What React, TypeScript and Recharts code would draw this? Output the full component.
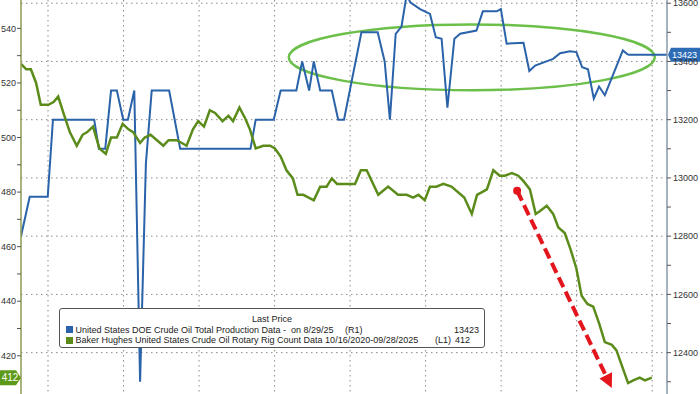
import React from "react";
import {
  LineChart,
  Line,
  XAxis,
  YAxis,
  CartesianGrid,
  ReferenceArea,
  ReferenceLine,
  ReferenceDot,
} from "recharts";

// weekly series, x = weeks since the first visible point
const prodWeeks = [
  0, 1.5, 4.6, 5.5, 12.6, 13.4, 14.5, 15.5, 16.5, 17.6, 18.4, 19.5, 20.5, 21.5, 22.5, 25.5, 27.4, 39.5, 40.4,
  43.5, 44.7, 47.4, 48.4, 49.6, 50.4, 51.5, 53.5, 54.6, 55.6, 56.6, 58.6, 61.4, 62.6, 63.5, 64.5, 65.5, 66.4,
  67.0, 68.7, 70.4, 71.4, 72.4, 73.4, 74.6, 75.6, 78.4, 79.5, 81.9, 82.6, 83.6, 86.5, 87.5, 88.5, 91.6, 92.8,
  94.5, 95.6, 96.6, 97.6, 98.6, 99.5, 100.5, 103.6, 104.5,
];
const prodValues = [
  12800, 12935, 12935, 13200, 13200, 13100, 13100, 13300, 13300, 13200, 13200, 13300, 12300, 13050, 13300, 13300,
  13100, 13100, 13200, 13200, 13300, 13300, 13400, 13300, 13400, 13300, 13300, 13200, 13200, 13300, 13500, 13500,
  13400, 13200, 13495, 13520, 13631, 13603, 13580, 13563, 13483, 13478, 13241, 13478, 13495, 13506, 13572, 13572,
  13580, 13461, 13464, 13367, 13386, 13409, 13428, 13435, 13432, 13380, 13373, 13272, 13314, 13284, 13438, 13423,
];

const rigWeeks = [
  0, 0.9, 1.7, 2.6, 3.4, 4.7, 5.6, 6.4, 7.3, 8.4, 9.6, 10.6, 11.4, 12.4, 13.5, 14.6, 15.5, 16.5, 17.5, 18.5,
  19.3, 20.5, 21.3, 22.3, 23.4, 24.5, 25.4, 26.8, 27.7, 28.5, 29.6, 30.5, 31.5, 32.5, 33.4, 34.7, 35.7, 36.5,
  37.6, 38.6, 39.4, 40.4, 41.7, 42.9, 43.7, 44.7, 45.7, 46.8, 47.6, 48.6, 50.4, 51.5, 52.6, 53.5, 54.4, 57.5,
  58.5, 59.5, 61.5, 63.2, 64.9, 66.4, 67.5, 68.4, 69.5, 70.4, 71.5, 72.7, 74.1, 76.3, 77.6, 78.5, 80.2, 81.3,
  82.4, 83.3, 84.5, 85.6, 86.5, 87.6, 88.6, 89.3, 90.5, 91.6, 92.5, 93.6, 94.6, 95.6, 96.5, 97.5, 98.5, 99.5,
  100.5, 101.7, 102.5, 104.5, 105.4, 106.5, 107.4, 108.6,
];
const rigValues = [
  527, 525, 525, 520, 512, 512, 513, 515, 509, 502, 497, 501, 502, 504, 496, 494, 500, 500, 505, 503,
  502, 498, 500, 501, 499, 497, 499, 499, 498, 497, 503, 506, 504, 510, 509, 506, 508, 506, 511, 507,
  503, 496, 497, 497, 496, 493, 488, 485, 479, 479, 477, 482, 482, 485, 483, 483, 488, 488, 479, 482,
  479, 479, 478, 479, 477, 482, 482, 483, 482, 478, 472, 479, 481, 488, 486, 486, 487, 486, 484, 481,
  472, 473, 475, 472, 467, 465, 459, 452, 442, 439, 438, 432, 425, 424, 422, 410, 411, 412, 411, 412,
];

const gridWeeks = [4.65, 17.65, 30.65, 43.65, 56.65, 69.65, 82.65, 95.65, 108.65];
const leftTicks = [420, 430, 440, 450, 460, 470, 480, 490, 500, 510, 520, 530, 540];
const rightTicks = [12300, 12400, 12500, 12600, 12700, 12800, 12900, 13000, 13100, 13200, 13300, 13400, 13500, 13600];
const gridValues = [12400, 12600, 12800, 13000, 13200, 13400, 13600];

const prodData = prodWeeks.map((week, i) => ({ week, production: prodValues[i] }));
const rigData = rigWeeks.map((week, i) => ({ week, rigs: rigValues[i] }));

const lastProd = prodValues[prodValues.length - 1];
const lastProdWeek = prodWeeks[prodWeeks.length - 1];
const lastRigs = rigValues[rigValues.length - 1];

const X_MAX = 111.2;
const BLUE = "#2a63a9";
const GREEN = "#5b8c1b";
const RED = "#e3161e";
const FONT = "'Liberation Sans', Arial, sans-serif";

const TrendArrow = (props: any) => {
  const { x1, y1, x2, y2 } = props;
  const dx = x2 - x1;
  const dy = y2 - y1;
  const len = Math.hypot(dx, dy);
  const ux = dx / len;
  const uy = dy / len;
  const head = 14;
  const half = 7;
  const bx = x2 - ux * head;
  const by = y2 - uy * head;
  return (
    <g>
      <line x1={x1} y1={y1} x2={bx} y2={by} stroke={RED} strokeWidth={4} strokeDasharray="11 5" />
      <circle cx={x1} cy={y1} r={4} fill={RED} />
      <polygon
        points={`${x2},${y2} ${bx - uy * half},${by + ux * half} ${bx + uy * half},${by - ux * half}`}
        fill={RED}
      />
    </g>
  );
};

const Oval = (props: any) => {
  const { x, y, width, height } = props;
  return (
    <ellipse
      cx={x + width / 2}
      cy={y + height / 2}
      rx={width / 2}
      ry={height / 2}
      fill="none"
      stroke="#6cc04a"
      strokeWidth={2.5}
    />
  );
};

const LeftBadge = (props: any) => {
  const { cx, cy } = props;
  return (
    <g>
      <path
        d={`M${cx - 21},${cy - 7.5} L${cx - 5},${cy - 7.5} L${cx},${cy} L${cx - 5},${cy + 7.5} L${cx - 21},${cy + 7.5} Z`}
        fill="#5e9a1a"
      />
      <text x={cx - 11} y={cy + 3.5} textAnchor="middle" fill="#fff" fontSize={10} fontFamily={FONT}>
        {lastRigs}
      </text>
    </g>
  );
};

const RightBadge = (props: any) => {
  const { cx, cy } = props;
  return (
    <g>
      <path
        d={`M${cx + 1},${cy} L${cx + 4},${cy - 7} L${cx + 40},${cy - 7} L${cx + 40},${cy + 7} L${cx + 4},${cy + 7} Z`}
        fill="#2d6cb4"
      />
      <text x={cx + 5} y={cy + 3.3} fill="#fff" fontSize={9} fontFamily={FONT}>
        {lastProd}
      </text>
    </g>
  );
};

const Swatch = ({ color }: { color: string }) => (
  <span
    style={{
      display: "inline-block",
      width: 7,
      height: 7,
      background: color,
      marginRight: 3,
      verticalAlign: "-0.5px",
    }}
  />
);

const LegendBox = () => (
  <div
    style={{
      position: "absolute",
      left: 59,
      top: 308,
      width: 426,
      height: 40,
      boxSizing: "border-box",
      border: "1px solid #555",
      borderRadius: 3,
      background: "#fff",
      fontFamily: FONT,
      fontSize: 9,
      lineHeight: "10.5px",
      color: "#222",
      paddingTop: 5,
    }}
  >
    <div style={{ textAlign: "center" }}>Last Price</div>
    <div style={{ position: "relative", height: 10.5, whiteSpace: "pre" }}>
      <span style={{ position: "absolute", left: 5.5 }}>
        <Swatch color={BLUE} />
        United States DOE Crude Oil Total Production Data -  on 8/29/25
      </span>
      <span style={{ position: "absolute", left: 285 }}>(R1)</span>
      <span style={{ position: "absolute", right: 5 }}>{lastProd}</span>
    </div>
    <div style={{ position: "relative", height: 10.5, whiteSpace: "pre" }}>
      <span style={{ position: "absolute", left: 5.5 }}>
        <Swatch color={GREEN} />
        Baker Hughes United States Crude Oil Rotary Rig Count Data 10/16/2020-09/28/2025
      </span>
      <span style={{ position: "absolute", left: 375 }}>(L1)</span>
      <span style={{ position: "absolute", right: 14 }}>{lastRigs}</span>
    </div>
  </div>
);

const App = () => {
  return (
    <div
      style={{
        position: "absolute",
        left: 0,
        top: 0,
        width: 700,
        height: 394,
        background: "#fff",
        overflow: "hidden",
      }}
    >
      <LineChart width={700} height={394} margin={{ top: 0, right: 0, bottom: 0, left: 0 }}>
        <CartesianGrid
          yAxisId="right"
          horizontalValues={gridValues}
          verticalValues={gridWeeks}
          stroke="#8a8a8a"
          strokeDasharray="1.5 3.5"
        />
        <XAxis
          dataKey="week"
          type="number"
          domain={[0, X_MAX]}
          allowDataOverflow
          ticks={gridWeeks}
          hide
        />
        <YAxis
          yAxisId="left"
          orientation="left"
          width={21}
          domain={[406, 550.4]}
          allowDataOverflow
          ticks={leftTicks}
          interval={0}
          tickFormatter={(v: number) => (v % 20 === 0 ? String(v) : "")}
          axisLine={{ stroke: "#8c9a52", strokeWidth: 1.5 }}
          tickLine={{ stroke: "#555" }}
          tickSize={4}
          tickMargin={1}
          tick={{ fontSize: 9, fill: "#333", fontFamily: FONT }}
        />
        <YAxis
          yAxisId="right"
          orientation="right"
          width={33}
          domain={[12258, 13611]}
          allowDataOverflow
          ticks={rightTicks}
          interval={0}
          tickFormatter={(v: number) => (v % 200 === 0 ? String(v) : "")}
          axisLine={{ stroke: "#8898ab", strokeWidth: 1.5 }}
          tickLine={{ stroke: "#555" }}
          tickSize={4}
          tickMargin={2}
          tick={{ fontSize: 9, fill: "#333", fontFamily: FONT }}
        />
        <ReferenceLine
          yAxisId="right"
          segment={[
            { x: lastProdWeek, y: lastProd },
            { x: X_MAX, y: lastProd },
          ]}
          stroke={BLUE}
          strokeWidth={2}
          ifOverflow="visible"
        />
        <Line
          data={prodData}
          dataKey="production"
          yAxisId="right"
          type="linear"
          stroke={BLUE}
          strokeWidth={2}
          dot={false}
          isAnimationActive={false}
        />
        <Line
          data={rigData}
          dataKey="rigs"
          yAxisId="left"
          type="linear"
          stroke={GREEN}
          strokeWidth={2.5}
          dot={false}
          isAnimationActive={false}
        />
        <ReferenceArea
          yAxisId="right"
          x1={46.1}
          x2={109.1}
          y1={13301}
          y2={13527}
          ifOverflow="visible"
          shape={Oval}
        />
        <ReferenceLine
          yAxisId="left"
          segment={[
            { x: 85.4, y: 480.5 },
            { x: 101.7, y: 408.2 },
          ]}
          ifOverflow="visible"
          shape={TrendArrow}
        />
        <ReferenceDot yAxisId="left" x={0} y={lastRigs} ifOverflow="visible" shape={LeftBadge} />
        <ReferenceDot yAxisId="right" x={X_MAX} y={lastProd} ifOverflow="visible" shape={RightBadge} />
      </LineChart>
      <LegendBox />
    </div>
  );
};

export default App;
